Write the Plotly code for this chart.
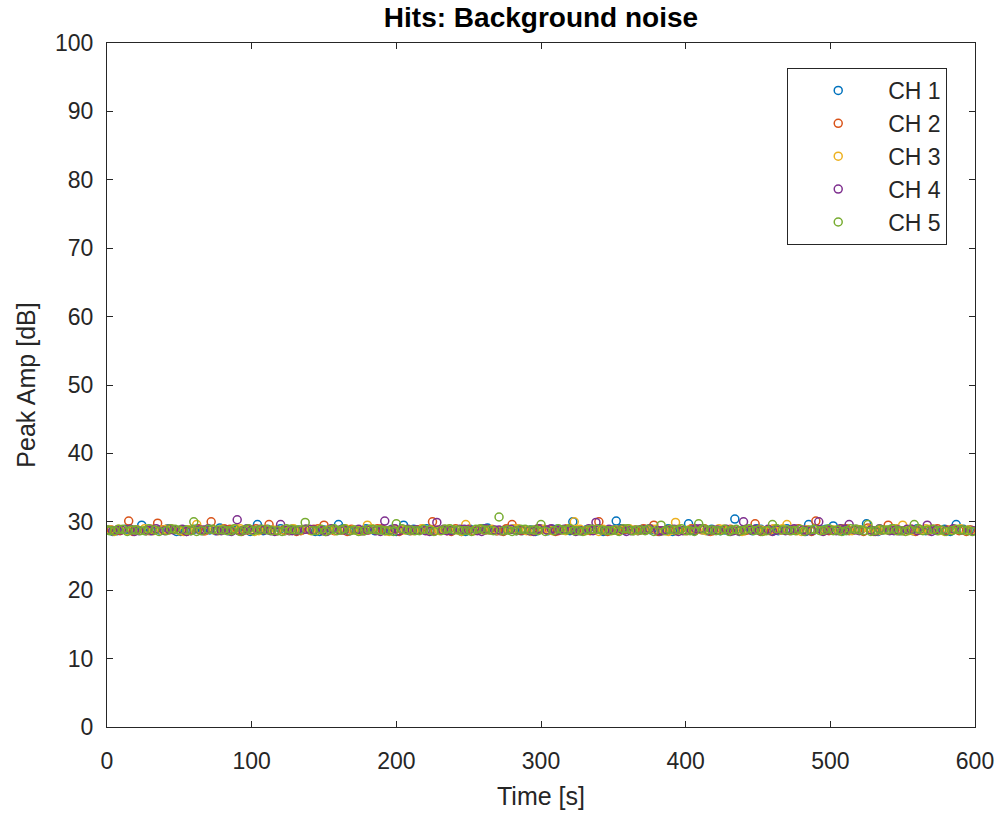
import plotly.graph_objects as go

# ---- data ----
ch1_t = [1, 7, 13, 19, 24, 30, 36, 42, 48, 54,
         60, 66, 71, 78, 84, 90, 96, 104, 108, 114,
         120, 126, 132, 138, 144, 150, 156, 160, 167, 173,
         179, 185, 191, 197, 205, 209, 215, 221, 227, 233,
         239, 245, 251, 257, 263, 269, 275, 281, 287, 293,
         299, 305, 311, 317, 322, 328, 334, 340, 346, 352,
         358, 364, 370, 376, 382, 388, 394, 402, 406, 412,
         418, 424, 429, 434, 440, 446, 452, 458, 464, 470,
         476, 485, 488, 494, 502, 506, 512, 518, 525, 530,
         536, 542, 548, 554, 560, 566, 572, 579, 587, 596]
ch1_a = [28.8, 28.7, 28.9, 28.8, 29.5, 28.7, 28.8, 29.0, 28.6, 28.8,
         28.9, 28.7, 28.8, 29.1, 28.7, 28.8, 28.9, 29.6, 28.7, 28.8,
         29.0, 28.7, 28.8, 28.9, 28.6, 28.8, 28.9, 29.6, 28.7, 28.8,
         29.0, 28.7, 28.8, 28.9, 29.5, 28.7, 28.8, 29.0, 28.7, 28.9,
         28.8, 28.6, 28.9, 28.8, 29.1, 28.7, 28.8, 28.9, 28.7, 28.8,
         29.0, 28.7, 28.9, 28.8, 30.0, 28.7, 28.8, 29.0, 28.7, 30.1,
         28.8, 28.7, 28.9, 28.8, 28.6, 29.0, 28.8, 29.7, 28.7, 28.8,
         28.9, 28.7, 28.8, 30.4, 28.8, 28.7, 28.9, 28.8, 28.7, 29.0,
         28.8, 29.6, 28.7, 28.8, 29.4, 28.7, 28.8, 28.9, 29.7, 28.7,
         28.8, 28.9, 28.7, 28.8, 29.0, 28.7, 28.8, 28.9, 29.6, 28.8]

ch2_t = [3, 9, 15, 21, 27, 35, 39, 45, 51, 57,
         63, 68, 72, 79, 85, 91, 97, 103, 112, 116,
         122, 128, 134, 140, 146, 150, 157, 163, 169, 175,
         181, 187, 193, 199, 204, 210, 217, 225, 229, 235,
         241, 247, 253, 259, 265, 270, 276, 280, 288, 294,
         300, 306, 312, 318, 324, 330, 336, 340, 347, 353,
         359, 365, 371, 378, 383, 389, 395, 401, 407, 413,
         419, 425, 431, 437, 443, 448, 454, 460, 466, 472,
         478, 484, 490, 496, 501, 507, 513, 519, 526, 532,
         540, 544, 550, 556, 562, 568, 574, 581, 589, 597]
ch2_a = [28.8, 28.7, 30.1, 28.8, 28.7, 29.8, 28.8, 28.9, 28.7, 28.8,
         29.0, 28.7, 30.0, 28.8, 28.9, 28.7, 28.8, 29.0, 29.6, 28.7,
         28.8, 28.9, 28.7, 28.8, 29.0, 29.5, 28.7, 28.8, 28.9, 28.7,
         28.8, 29.0, 28.7, 28.9, 28.8, 28.7, 28.9, 30.0, 28.8, 28.7,
         29.0, 28.8, 28.7, 28.9, 28.8, 28.7, 29.0, 29.6, 28.8, 28.7,
         28.9, 28.8, 28.7, 29.0, 28.8, 28.7, 28.9, 30.0, 28.8, 28.7,
         28.9, 28.8, 29.0, 29.5, 28.7, 28.8, 28.9, 28.7, 28.8, 29.0,
         28.7, 28.8, 28.9, 28.7, 28.8, 29.7, 28.7, 28.9, 28.8, 28.7,
         29.0, 28.8, 30.1, 28.7, 28.8, 28.9, 28.7, 28.8, 29.1, 28.7,
         29.5, 28.8, 28.7, 28.9, 28.8, 28.7, 29.0, 28.8, 28.7, 28.8]

ch3_t = [2, 8, 14, 20, 26, 32, 38, 44, 50, 56,
         62, 67, 74, 80, 86, 92, 99, 105, 110, 117,
         123, 129, 135, 141, 147, 153, 158, 165, 170, 176,
         180, 186, 192, 198, 206, 212, 218, 224, 230, 236,
         242, 248, 254, 260, 266, 272, 278, 284, 290, 296,
         302, 308, 314, 319, 323, 331, 337, 343, 349, 355,
         361, 367, 373, 379, 385, 390, 393, 399, 405, 411,
         417, 423, 430, 436, 442, 449, 455, 461, 465, 470,
         477, 483, 489, 495, 503, 509, 515, 521, 527, 533,
         539, 545, 550, 557, 563, 569, 575, 583, 590, 598]
ch3_a = [28.8, 28.9, 28.7, 28.8, 29.0, 28.7, 28.8, 28.9, 28.7, 28.8,
         29.6, 28.7, 28.8, 28.9, 28.7, 29.0, 28.8, 28.7, 28.9, 28.8,
         28.7, 29.0, 28.8, 28.7, 28.9, 28.8, 28.7, 29.0, 28.8, 28.7,
         29.5, 28.8, 28.7, 28.9, 28.8, 28.7, 29.0, 28.8, 28.7, 28.9,
         28.8, 29.6, 28.7, 28.8, 28.9, 28.7, 28.8, 29.0, 28.7, 28.8,
         28.9, 28.7, 28.8, 29.0, 30.0, 28.7, 28.8, 28.9, 28.7, 28.8,
         29.0, 28.7, 28.8, 28.9, 28.7, 28.8, 29.9, 28.7, 28.9, 28.8,
         28.7, 29.0, 28.8, 28.7, 28.9, 28.8, 28.7, 29.0, 28.8, 29.6,
         28.7, 28.8, 28.9, 28.7, 28.8, 29.0, 28.7, 28.8, 28.9, 28.7,
         28.8, 29.0, 29.5, 28.7, 28.8, 28.9, 28.7, 28.8, 29.0, 28.7]

ch4_t = [4, 10, 16, 22, 28, 34, 40, 46, 52, 58,
         64, 70, 76, 82, 90, 94, 100, 106, 113, 120,
         125, 131, 137, 143, 149, 155, 161, 168, 174, 180,
         186, 192, 196, 202, 208, 214, 220, 228, 232, 238,
         244, 250, 256, 262, 268, 274, 279, 286, 292, 298,
         304, 310, 316, 321, 327, 333, 338, 344, 350, 356,
         362, 368, 375, 381, 387, 392, 398, 404, 410, 416,
         422, 428, 433, 440, 445, 451, 457, 463, 469, 475,
         481, 487, 492, 498, 504, 510, 513, 520, 528, 534,
         541, 547, 553, 560, 567, 573, 580, 585, 591, 599]
ch4_a = [28.7, 28.8, 28.9, 28.7, 28.8, 29.0, 28.7, 28.8, 28.9, 28.7,
         28.8, 29.0, 28.7, 28.8, 30.3, 28.7, 28.8, 28.9, 28.7, 29.6,
         28.8, 28.7, 28.9, 28.8, 28.7, 29.0, 28.8, 28.7, 28.9, 28.8,
         28.7, 30.1, 28.8, 28.7, 28.9, 28.8, 28.7, 29.9, 28.8, 28.7,
         28.9, 28.8, 28.7, 29.0, 28.8, 28.7, 28.9, 28.8, 28.7, 29.0,
         28.8, 28.7, 28.9, 28.8, 28.7, 29.0, 29.9, 28.7, 28.8, 28.9,
         28.7, 28.8, 29.0, 28.7, 28.8, 28.9, 28.7, 28.8, 29.0, 28.7,
         28.8, 28.9, 28.7, 30.0, 28.8, 28.7, 28.9, 28.8, 28.7, 29.0,
         28.8, 28.7, 30.0, 28.8, 28.7, 28.9, 29.6, 28.7, 28.8, 29.0,
         28.7, 28.8, 28.9, 28.7, 29.5, 28.8, 28.7, 29.0, 28.8, 28.7]

ch5_t = [0, 5, 11, 17, 23, 29, 33, 41, 47, 55,
         60, 65, 73, 77, 83, 88, 95, 101, 107, 111,
         118, 124, 130, 137, 142, 148, 154, 159, 164, 171,
         178, 184, 189, 195, 200, 207, 213, 219, 223, 231,
         237, 243, 249, 255, 261, 267, 271, 277, 283, 289,
         295, 300, 309, 315, 320, 326, 332, 339, 345, 351,
         357, 363, 369, 374, 383, 386, 392, 397, 403, 409,
         415, 421, 427, 432, 438, 444, 450, 456, 460, 467,
         473, 479, 486, 493, 499, 505, 511, 517, 526, 531,
         537, 543, 549, 555, 558, 564, 571, 577, 584, 592]
ch5_a = [28.8, 28.7, 28.9, 28.8, 28.7, 29.0, 28.8, 28.7, 28.9, 28.8,
         30.0, 28.7, 28.9, 28.8, 28.7, 29.0, 28.8, 28.7, 28.9, 28.8,
         28.7, 29.0, 28.8, 29.9, 28.7, 28.9, 28.8, 28.7, 29.0, 28.8,
         28.7, 28.9, 28.8, 28.7, 29.7, 28.8, 28.7, 28.9, 28.8, 28.7,
         29.0, 28.8, 28.7, 28.9, 28.8, 28.7, 30.7, 28.8, 28.7, 28.9,
         28.8, 29.6, 28.7, 28.8, 29.0, 28.7, 28.8, 28.9, 28.7, 28.8,
         29.0, 28.7, 28.8, 28.9, 29.5, 28.7, 28.8, 29.0, 28.7, 29.7,
         28.8, 28.7, 28.9, 28.8, 28.7, 29.0, 28.8, 28.7, 29.6, 28.8,
         28.7, 28.9, 28.8, 28.7, 29.0, 28.8, 28.7, 28.9, 29.6, 28.7,
         28.8, 29.0, 28.7, 28.8, 29.6, 28.7, 28.9, 28.8, 28.7, 28.8]

# additional hits filling the dense band
ch1_t2 = [4, 16, 27, 39, 51, 63, 75, 87, 99, 111, 123, 135, 147, 163, 176, 188, 200, 212, 224, 236,
          248, 260, 272, 284, 296, 308, 320, 331, 343, 355, 367, 379, 391, 405, 415, 427, 437, 449, 461, 473,
          483, 497, 509, 521, 533, 545, 557, 569, 583, 592]
ch1_a2 = [28.6, 28.9, 28.7, 28.8, 28.6, 29.0, 28.7, 28.8, 28.6, 28.9, 28.7, 28.8, 28.6, 29.0, 28.7, 28.8, 28.6, 28.9, 28.7, 28.8,
          28.6, 29.0, 28.7, 28.8, 28.6, 28.9, 28.7, 28.8, 28.6, 29.0, 28.7, 28.8, 28.6, 28.9, 28.7, 28.8, 28.6, 29.0, 28.7, 28.8,
          28.6, 28.9, 28.7, 28.8, 28.6, 29.0, 28.7, 28.8, 28.6, 28.9]
ch2_t2 = [6, 18, 31, 43, 55, 67, 81, 93, 106, 118, 131, 143, 153, 166, 178, 190, 202, 214, 227, 238,
          250, 262, 274, 286, 298, 310, 322, 334, 346, 357, 369, 381, 393, 404, 417, 429, 441, 452, 463, 475,
          487, 499, 511, 523, 535, 547, 559, 571, 585, 594]
ch2_a2 = [28.7, 28.6, 28.9, 28.8, 28.6, 28.7, 29.0, 28.6, 28.8, 28.7, 28.6, 28.9, 28.8, 28.6, 28.7, 29.0, 28.6, 28.8, 28.7, 28.6,
          28.9, 28.8, 28.6, 28.7, 29.0, 28.6, 28.8, 28.7, 28.6, 28.9, 28.8, 28.6, 28.7, 29.0, 28.6, 28.8, 28.7, 28.6, 28.9, 28.8,
          28.6, 28.7, 29.0, 28.6, 28.8, 28.7, 28.6, 28.9, 28.8, 28.6]
ch3_t2 = [5, 17, 29, 41, 53, 65, 77, 89, 102, 114, 126, 138, 151, 162, 173, 183, 195, 209, 221, 233,
          245, 257, 269, 281, 293, 305, 317, 327, 340, 352, 364, 376, 388, 402, 414, 426, 439, 452, 458, 467,
          480, 492, 506, 518, 530, 542, 554, 566, 579, 595]
ch3_a2 = [28.6, 28.8, 28.7, 28.9, 28.6, 28.8, 28.7, 29.0, 28.6, 28.8, 28.7, 28.9, 28.6, 28.8, 28.7, 29.0, 28.6, 28.8, 28.7, 28.9,
          28.6, 28.8, 28.7, 29.0, 28.6, 28.8, 28.7, 28.9, 28.6, 28.8, 28.7, 29.0, 28.6, 28.8, 28.7, 28.9, 28.6, 28.8, 28.7, 29.0,
          28.6, 28.8, 28.7, 28.9, 28.6, 28.8, 28.7, 29.0, 28.6, 28.8]
ch4_t2 = [7, 19, 31, 43, 55, 67, 79, 86, 97, 109, 116, 128, 140, 152, 164, 177, 189, 199, 211, 223,
          235, 247, 259, 271, 283, 295, 307, 313, 324, 336, 347, 359, 372, 384, 395, 407, 419, 431, 437, 448,
          460, 472, 484, 495, 507, 517, 531, 544, 556, 570]
ch4_a2 = [28.8, 28.6, 28.7, 28.9, 28.6, 28.8, 28.7, 28.6, 29.0, 28.8, 28.6, 28.7, 28.9, 28.6, 28.8, 28.7, 28.6, 29.0, 28.8, 28.6,
          28.7, 28.9, 28.6, 28.8, 28.7, 28.6, 29.0, 28.8, 28.6, 28.7, 28.9, 28.6, 28.8, 28.7, 28.6, 29.0, 28.8, 28.6, 28.7, 28.9,
          28.6, 28.8, 28.7, 28.6, 29.0, 28.8, 28.6, 28.7, 28.9, 28.6]
ch5_t2 = [2, 8, 14, 20, 26, 36, 44, 50, 58, 62, 70, 80, 86, 92, 98, 104, 114, 121, 127, 133,
          145, 151, 157, 162, 168, 174, 181, 187, 192, 198, 204, 210, 216, 226, 234, 240, 246, 252, 258, 264,
          274, 280, 286, 292, 298, 303, 312, 318, 323, 329, 335, 342, 348, 354, 360, 366, 372, 378, 389, 395,
          400, 406, 412, 418, 424, 430, 435, 441, 447, 453, 463, 470, 476, 482, 489, 496, 502, 508, 514, 520,
          523, 528, 534, 540, 546, 552, 561, 567, 574, 580, 587, 590, 595, 598]
ch5_a2 = [28.7, 28.9, 28.6, 28.8, 28.7, 28.6, 29.0, 28.8, 28.7, 28.6, 28.9, 28.8, 28.7, 28.6, 29.0, 28.8, 28.7, 28.6, 28.9, 28.8,
          28.7, 28.6, 29.0, 28.8, 28.7, 28.6, 28.9, 28.8, 28.7, 28.6, 29.0, 28.8, 28.7, 28.6, 28.9, 28.8, 28.7, 28.6, 29.0, 28.8,
          28.7, 28.6, 28.9, 28.8, 28.7, 28.6, 29.0, 28.8, 28.7, 28.6, 28.9, 28.8, 28.7, 28.6, 29.0, 28.8, 28.7, 28.6, 28.9, 28.8,
          28.7, 28.6, 29.0, 28.8, 28.7, 28.6, 28.9, 28.8, 28.7, 28.6, 29.0, 28.8, 28.7, 28.6, 28.9, 28.8, 28.7, 28.6, 29.0, 28.8,
          28.7, 28.6, 28.9, 28.8, 28.7, 28.6, 29.0, 28.8, 28.7, 28.6, 28.9, 28.8, 28.7, 28.6]

names = ["CH 1", "CH 2", "CH 3", "CH 4", "CH 5"]
colors = ["#0072BD", "#D95319", "#EDB120", "#7E2F8E", "#77AC30"]
series = [(ch1_t + ch1_t2, ch1_a + ch1_a2), (ch2_t + ch2_t2, ch2_a + ch2_a2),
          (ch3_t + ch3_t2, ch3_a + ch3_a2), (ch4_t + ch4_t2, ch4_a + ch4_a2),
          (ch5_t + ch5_t2, ch5_a + ch5_a2)]

x_ticks = [0, 100, 200, 300, 400, 500, 600]
y_ticks = [0, 10, 20, 30, 40, 50, 60, 70, 80, 90, 100]

axis_col = "#262626"
font_family = "Liberation Sans, Arial, sans-serif"

fig = go.Figure()
for (t, a), n, c in zip(series, names, colors):
    fig.add_trace(go.Scatter(
        x=t, y=a, mode="markers", name=n,
        marker=dict(symbol="circle-open", size=8, color=c, line=dict(width=1.5, color=c)),
    ))

axis_common = dict(
    showline=True, linecolor=axis_col, linewidth=1.2, mirror="ticks",
    ticks="inside", ticklen=6, tickwidth=1, tickcolor=axis_col,
    showgrid=False, zeroline=False, ticklabeloverflow="allow",
    tickfont=dict(family=font_family, size=23, color=axis_col),
    title_font=dict(family=font_family, size=25, color=axis_col),
)

fig.update_xaxes(range=[0, 600], tickvals=x_ticks, title_text="Time [s]",
                 ticklabelstandoff=13, title_standoff=14, automargin=False, **axis_common)
fig.update_yaxes(range=[0, 100], tickvals=y_ticks, title_text="Peak Amp [dB]",
                 ticklabelstandoff=8, title_standoff=12, automargin=False, **axis_common)

fig.update_layout(
    width=998, height=815,
    margin=dict(l=107, r=23, t=43, b=88),
    paper_bgcolor="white", plot_bgcolor="white",
    title=dict(text="<b>Hits: Background noise</b>", x=541 / 998, xanchor="center",
               y=1 - 17 / 815, yanchor="middle",
               font=dict(family=font_family, size=28, color="#000000")),
    legend=dict(
        x=0.968, y=0.9635, xanchor="right", yanchor="top",
        bgcolor="white", bordercolor=axis_col, borderwidth=1,
        font=dict(family=font_family, size=23, color=axis_col),
        itemwidth=90,
    ),
    showlegend=True,
)

fig.write_html("out.html")
